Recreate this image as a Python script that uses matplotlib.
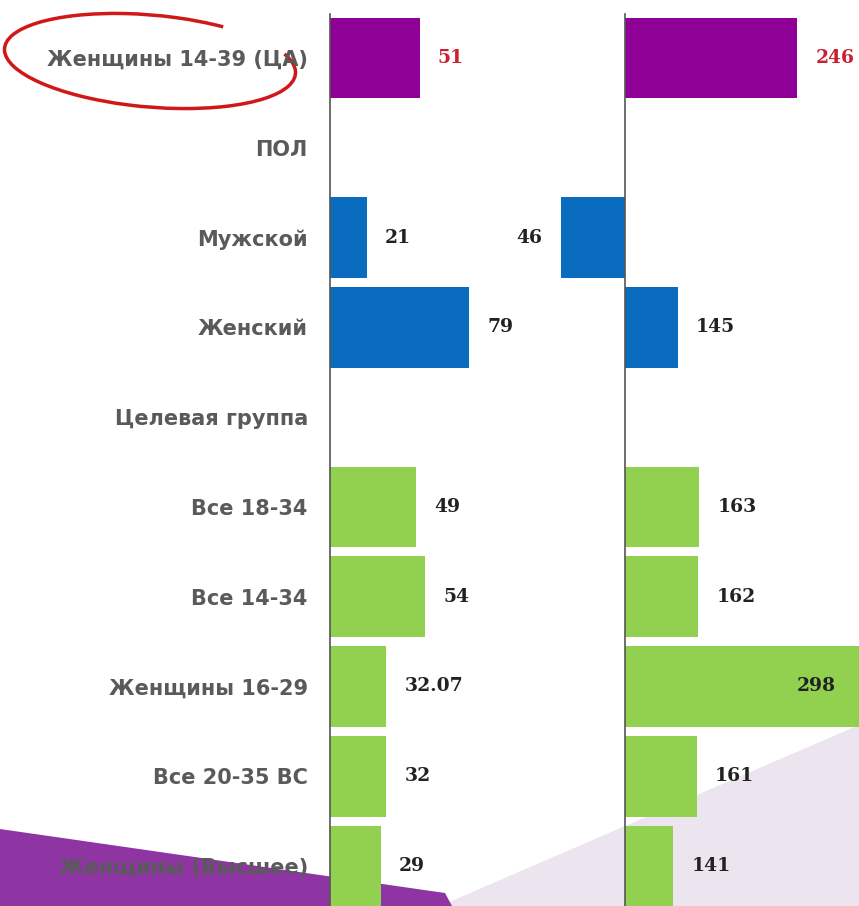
import numpy as np
import matplotlib
matplotlib.use("Agg")
import matplotlib.pyplot as plt
from matplotlib.patches import Polygon, Arc

# данные
categories = ["Женщины 14-39 (ЦА)", "ПОЛ", "Мужской", "Женский", "Целевая группа",
              "Все 18-34", "Все 14-34", "Женщины 16-29", "Все 20-35 ВС", "Женщины (Высшее)"]
reach = [51, np.nan, 21, 79, np.nan, 49, 54, 32.07, 32, 29]
index = [246, np.nan, 46, 145, np.nan, 163, 162, 298, 161, 141]
groups = ["ca", None, "sex", "sex", None, "tg", "tg", "tg", "tg", "tg"]

colors = {"ca": "#8e0096", "sex": "#0a6cbf", "tg": "#92d050"}
W, H = 859, 906
fig = plt.figure(figsize=(W / 100, H / 100), dpi=100)

# фон (пиксельные координаты)
bg = fig.add_axes([0, 0, 1, 1], zorder=0)
bg.set_xlim(0, W)
bg.set_ylim(H, 0)
bg.axis("off")
bg.add_patch(Polygon([(440, 906), (859, 725), (859, 906)], color="#ece4ef", lw=0))
bg.add_patch(Polygon([(0, 829), (445, 893), (452, 906), (0, 906)],
                     color="#8f35a3", lw=0))
# красный овал вокруг ЦА
bg.add_patch(Arc((150, 61), 292, 92, angle=5, theta1=-8, theta2=330,
                 color="#d01818", lw=2.5))

rows = np.arange(len(categories))
ylim = (9.445, -0.646)


def setup(ax):
    ax.set_facecolor("none")
    ax.set_ylim(*ylim)
    for s in ["top", "right", "bottom"]:
        ax.spines[s].set_visible(False)
    ax.spines["left"].set_color("#555555")
    ax.spines["left"].set_linewidth(1.2)
    ax.spines["left"].set_bounds(-0.49, ylim[0])
    ax.set_xticks([])


bar_colors = [colors[g] if g else "none" for g in groups]

# левая панель
axl = fig.add_axes([330 / W, 0, 170 / W, 1], zorder=1)
setup(axl)
axl.set_xlim(0, 170 / 1.76)
axl.barh(rows, np.nan_to_num(reach), height=0.9, color=bar_colors)
axl.set_yticks(rows)
axl.set_yticklabels(categories, fontsize=15, fontweight="bold", color="#5a5a5a",
                    family="DejaVu Sans")
axl.tick_params(axis="y", length=0, pad=16)
for i, v in enumerate(reach):
    if np.isnan(v):
        continue
    c = "#c8202e" if i == 0 else "#222222"
    axl.annotate(f"{v:g}", (v, i), xytext=(13, 0), textcoords="offset points",
                 ha="left", va="center", fontsize=13.5, fontweight="bold",
                 family="DejaVu Serif", color=c)

# правая панель (индекс, база 100)
axr = fig.add_axes([480 / W, 0, 379 / W, 1], zorder=1)
setup(axr)
x0 = 100 - 145 / 1.18
axr.set_xlim(x0, x0 + 379 / 1.18)
axr.spines["left"].set_position(("data", 100))
axr.set_yticks([])
axr.barh(rows, np.nan_to_num(np.array(index) - 100), left=100, height=0.9, color=bar_colors)
xmax = axr.get_xlim()[1]
for i, v in enumerate(index):
    if np.isnan(v):
        continue
    c = "#c8202e" if i == 0 else "#222222"
    if v >= xmax - 5:
        pos, off, ha = xmax, -17, "right"
    elif v < 100:
        pos, off, ha = v, -14, "right"
    else:
        pos, off, ha = v, 13, "left"
    axr.annotate(f"{v:g}", (pos, i), xytext=(off, 0), textcoords="offset points",
                 ha=ha, va="center", fontsize=13.5, fontweight="bold",
                 family="DejaVu Serif", color=c)

fig.savefig("out.png", dpi=100)
